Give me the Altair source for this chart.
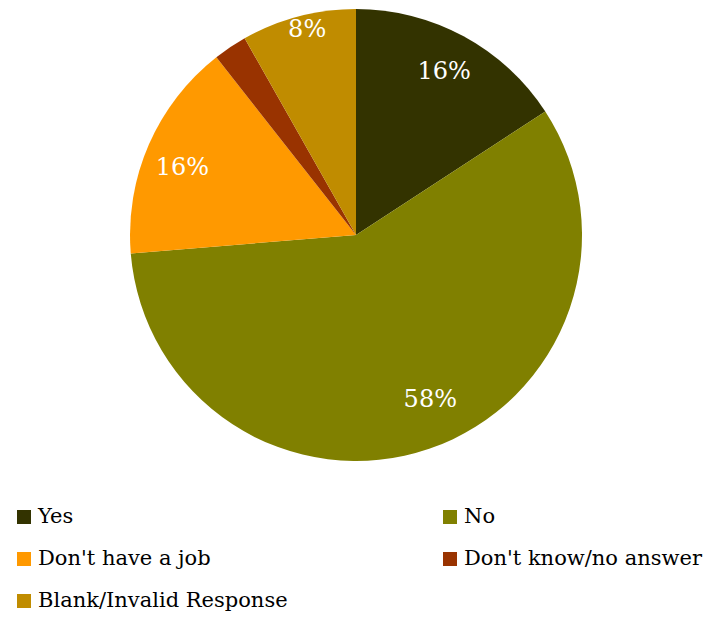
import altair as alt
import pandas as pd

categories = ["Yes", "No", "Don't have a job", "Don't know/no answer", "Blank/Invalid Response"]
values = [15.8, 57.9, 15.7, 2.4, 8.2]
labels = ["16%", "58%", "16%", "", "8%"]
colors = ["#333300", "#808000", "#FF9900", "#993300", "#C08C00"]

df = pd.DataFrame({
    "category": categories,
    "value": values,
    "label": labels,
    "order": list(range(len(categories))),
})

serif = "DejaVu Serif, Liberation Serif, Times New Roman, serif"
cx, cy = 348, 227

base = alt.Chart(df).encode(
    theta=alt.Theta("value:Q", stack=True),
    order=alt.Order("order:Q"),
)

color_enc = alt.Color(
    "category:N",
    scale=alt.Scale(domain=categories, range=colors),
    sort=categories,
    legend=None,
)

pie = base.mark_arc().encode(
    x=alt.value(cx), y=alt.value(cy), radius=alt.value(226), color=color_enc,
)

# per-slice label placement (radius px, angular nudge in radians)
label_place = {
    "Yes": (185, 0.0),
    "No": (181, -0.093),
    "Don't have a job": (186, -0.045),
    "Blank/Invalid Response": (211, 0.024),
}

text_layers = []
for cat, (r, dt) in label_place.items():
    text_layers.append(
        base.mark_text(font=serif, fontSize=24, color="white",
                       baseline="middle", align="center", thetaOffset=dt).encode(
            x=alt.value(cx), y=alt.value(cy), radius=alt.value(r),
            text=alt.condition(f"datum.category == \"{cat}\"", "label:N", alt.value("")),
        )
    )

# legend built from the same table: two columns, row-major
leg = alt.Chart(df).transform_calculate(
    col="datum.order % 2",
    row="floor(datum.order / 2)",
)
leg_x = alt.X("col:Q", scale=alt.Scale(domain=[0, 1], range=[16, 442]), axis=None)
leg_y = alt.Y("row:Q", scale=alt.Scale(domain=[0, 2], range=[509, 593]), axis=None)

leg_sym = leg.mark_square(size=196, opacity=1).encode(
    x=leg_x, y=leg_y, color=color_enc,
)
leg_txt = leg.mark_text(font=serif, fontSize=21, color="black", align="left",
                        baseline="middle", dx=14).encode(
    x=leg_x, y=leg_y, text="category:N",
)

chart = alt.layer(pie, *text_layers, leg_sym, leg_txt).properties(
    width=697, height=605, padding=0,
    autosize=alt.AutoSizeParams(type="none"),
).configure_view(stroke=None)

chart.save("out.html", embed_options={"renderer": "svg", "actions": False})
